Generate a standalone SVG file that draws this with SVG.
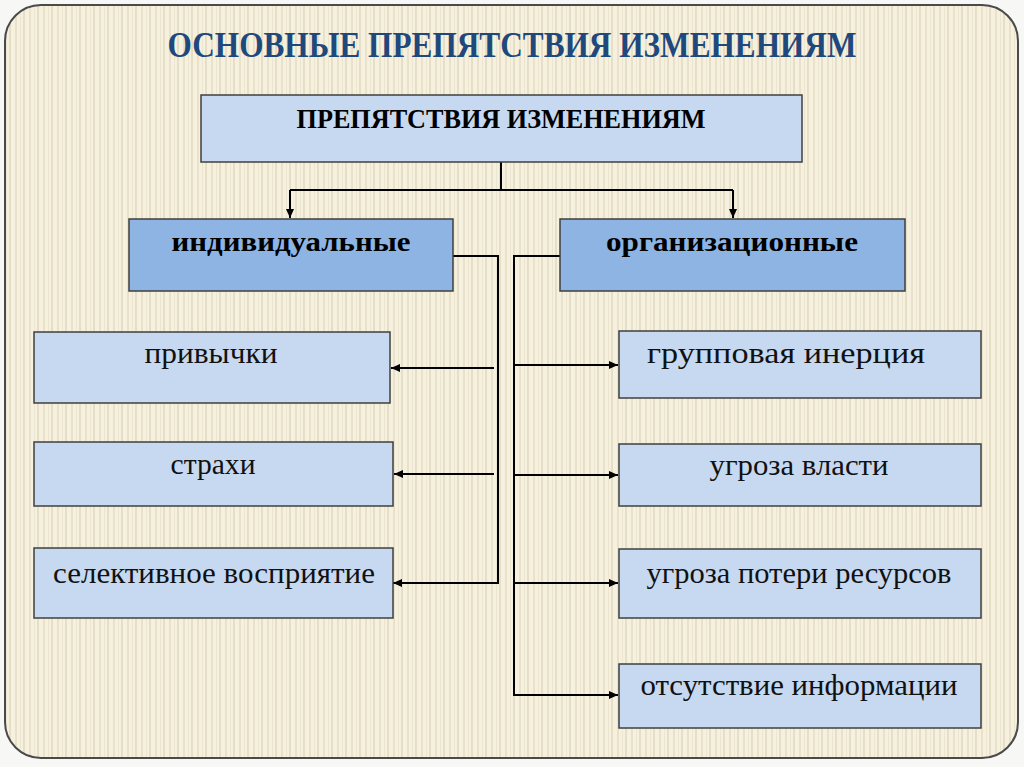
<svg xmlns="http://www.w3.org/2000/svg" width="1024" height="767" viewBox="0 0 1024 767">
<defs>
<pattern id="stripes" x="0" y="0" width="14" height="10" patternUnits="userSpaceOnUse">
<rect width="14" height="10" fill="#f6f0de"/>
<rect x="1" width="2" height="10" fill="#e9e1c9"/>
<rect x="6" width="1" height="10" fill="#ece5cf"/>
<rect x="9" width="2" height="10" fill="#e6dec6"/>
</pattern>
<marker id="arr" markerWidth="10" markerHeight="10" refX="9" refY="5" orient="auto" markerUnits="userSpaceOnUse">
<path d="M0,1 L9,5 L0,9 Z" fill="#000"/>
</marker>
<style>
.light{fill:#c6d9f0;stroke:#3f3f3f;stroke-width:1.5}
.mid{fill:#8eb4e3;stroke:#3f3f3f;stroke-width:1.5}
.hdr{font-family:"Liberation Serif",serif;font-weight:bold;fill:#000;text-anchor:middle}
.lbl{font-family:"Liberation Serif",serif;fill:#111;text-anchor:middle;font-size:30px}
.con{fill:none;stroke:#000;stroke-width:2}
</style>
</defs>
<rect width="1024" height="767" fill="#f7f7f5"/>
<rect x="5" y="5" width="1013" height="753" rx="36" ry="36" fill="url(#stripes)" stroke="#4a4a4a" stroke-width="2"/>
<text x="512" y="57" font-family="Liberation Serif, serif" font-weight="bold" font-size="35" fill="#1f497d" text-anchor="middle" textLength="689" lengthAdjust="spacingAndGlyphs">ОСНОВНЫЕ ПРЕПЯТСТВИЯ ИЗМЕНЕНИЯМ</text>

<g id="connectors">
<path class="con" d="M501,162 V190 M290,190 H733"/>
<path class="con" d="M290,190 V218" marker-end="url(#arr)"/>
<path class="con" d="M733,190 V218" marker-end="url(#arr)"/>
<path class="con" d="M453,256 H498 V583 H393" marker-end="url(#arr)"/>
<path class="con" d="M494,368 H391" marker-end="url(#arr)"/>
<path class="con" d="M494,474 H394" marker-end="url(#arr)"/>
<path class="con" d="M560,256 H514 V695 H618" marker-end="url(#arr)"/>
<path class="con" d="M514,365 H618" marker-end="url(#arr)"/>
<path class="con" d="M514,475 H618" marker-end="url(#arr)"/>
<path class="con" d="M514,583 H618" marker-end="url(#arr)"/>
</g>

<g id="root">
<rect class="light" x="201" y="95" width="601" height="67"/>
<text class="hdr" x="501" y="128" font-size="27" textLength="409" lengthAdjust="spacingAndGlyphs">ПРЕПЯТСТВИЯ ИЗМЕНЕНИЯМ</text>
</g>
<g id="individual">
<rect class="mid" x="129" y="219" width="324" height="72"/>
<text class="hdr" x="291" y="251" font-size="28" textLength="239" lengthAdjust="spacingAndGlyphs">индивидуальные</text>
</g>
<g id="organizational">
<rect class="mid" x="560" y="219" width="345" height="72"/>
<text class="hdr" x="732" y="251" font-size="28" textLength="252" lengthAdjust="spacingAndGlyphs">организационные</text>
</g>

<g id="habits">
<rect class="light" x="34" y="332" width="356" height="71"/>
<text class="lbl" x="211" y="363" textLength="133" lengthAdjust="spacingAndGlyphs">привычки</text>
</g>
<g id="fears">
<rect class="light" x="34" y="442" width="359" height="64"/>
<text class="lbl" x="213" y="474" textLength="85" lengthAdjust="spacingAndGlyphs">страхи</text>
</g>
<g id="selective">
<rect class="light" x="34" y="548" width="359" height="70"/>
<text class="lbl" x="214" y="583" textLength="322" lengthAdjust="spacingAndGlyphs">селективное восприятие</text>
</g>

<g id="group-inertia">
<rect class="light" x="619" y="331" width="362" height="67"/>
<text class="lbl" x="786" y="363" textLength="278" lengthAdjust="spacingAndGlyphs">групповая инерция</text>
</g>
<g id="power-threat">
<rect class="light" x="619" y="444" width="362" height="62"/>
<text class="lbl" x="799" y="475" textLength="179" lengthAdjust="spacingAndGlyphs">угроза власти</text>
</g>
<g id="resource-threat">
<rect class="light" x="619" y="549" width="362" height="69"/>
<text class="lbl" x="799" y="583" textLength="305" lengthAdjust="spacingAndGlyphs">угроза потери ресурсов</text>
</g>
<g id="no-info">
<rect class="light" x="619" y="664" width="362" height="64"/>
<text class="lbl" x="799" y="695" textLength="317" lengthAdjust="spacingAndGlyphs">отсутствие информации</text>
</g>
</svg>
